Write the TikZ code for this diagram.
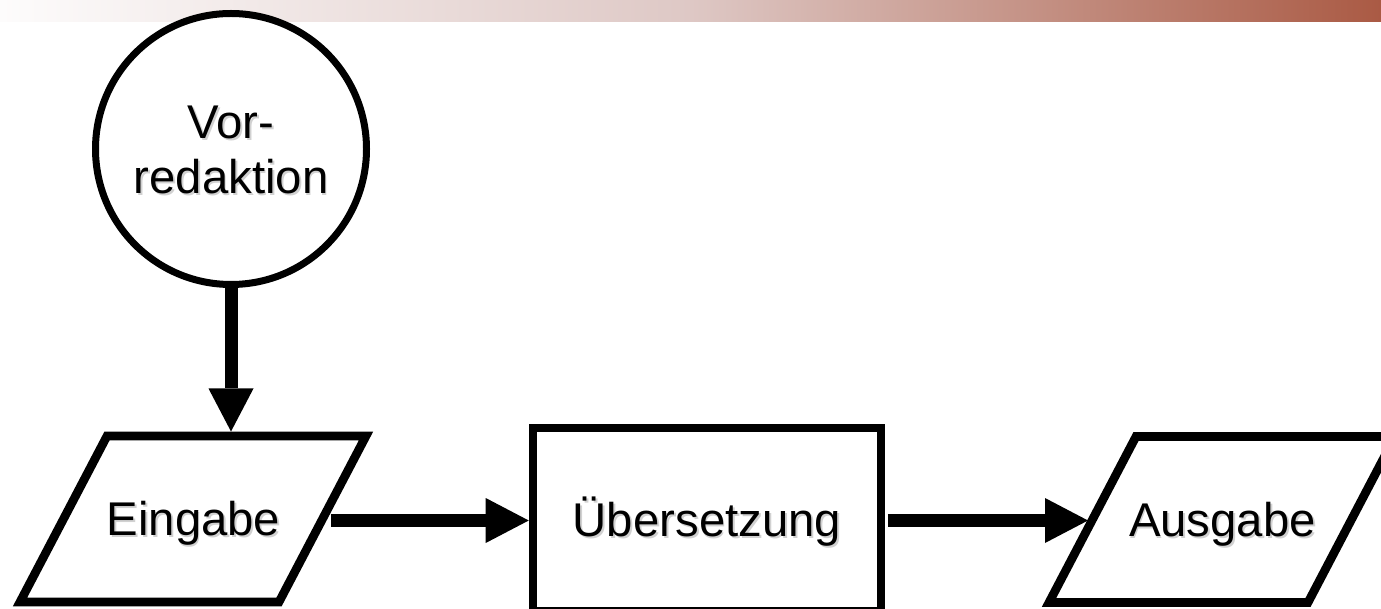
\documentclass[tikz,border=0pt]{standalone}
\usepackage{fontspec}
\setmainfont{Liberation Sans}
\usetikzlibrary{arrows.meta}
\definecolor{barL}{HTML}{FDFCFC}
\definecolor{barM}{HTML}{DEC8C5}
\definecolor{barR}{HTML}{AA5A44}
\newcommand\shtext[1]{\leavevmode\rlap{\hspace{1.4pt}\raisebox{-1.4pt}{\textcolor{black!18}{#1}}}#1}
\begin{document}
\begin{tikzpicture}[x=0.75pt,y=-0.75pt,
  lbl/.style={font=\fontsize{35.5}{41}\selectfont, text=black, text height=25.4pt, text depth=0pt},
  startnode/.style={circle, draw, line width=5.25pt, fill=white, minimum size=203.25pt, inner sep=0pt, align=center, lbl, text height=66.4pt},
  iotext/.style={rectangle, inner sep=0pt, minimum width=194pt, minimum height=124.5pt, lbl},
  ioline/.style={draw, line width=6.5pt, fill=white, line join=miter},
  procbox/.style={rectangle, draw, line width=6.4pt, fill=white, minimum width=261pt, minimum height=137.25pt, inner sep=0pt, lbl},
  flow/.style={line width=9.75pt, -{Triangle[length=32.25pt,width=33.75pt,line width=0pt]}}
]
\useasboundingbox (0,0) rectangle (1381,609);
\clip (0,0) rectangle (1381,609);
\shade[left color=barL, right color=barR, middle color=barM] (0,0) rectangle (1381,22);
% parallelogram outlines
\coordinate (einC) at (193.5,519);
\coordinate (ausC) at (1222.5,519.5);
\path[ioline] ([shift={(-86.5,-83)}]einC) -- ++(259,0) -- ++(-87,166) -- ++(-259,0) -- cycle;
\path[ioline] ([shift={(-86.5,-83)}]ausC) -- ++(259,0) -- ++(-87,166) -- ++(-259,0) -- cycle;
% nodes
\node[startnode] (vor) at (231,149) {\shtext{Vor-}\\\shtext{redaktion}};
\node[iotext] (ein) at (einC) {\shtext{Eingabe}};
\node[procbox] (box) at (707,519.5) {\shtext{Übersetzung}};
\node[iotext] (aus) at (ausC) {\shtext{Ausgabe}};
% connector ends on the slanted borders
\coordinate (einT) at ([shift={(0,-87.5)}]ein.center);
\coordinate (einR) at ([shift={(137,1.5)}]ein.center);
\coordinate (ausL) at ([shift={(-134.5,1)}]aus.center);
% connectors
\draw[flow] (vor.south) -- (vor.south |- einT);
\draw[flow] (einR) -- (einR -| box.west);
\draw[flow, shorten <=2pt] (box.east |- ausL) -- (ausL);
\end{tikzpicture}
\end{document}
